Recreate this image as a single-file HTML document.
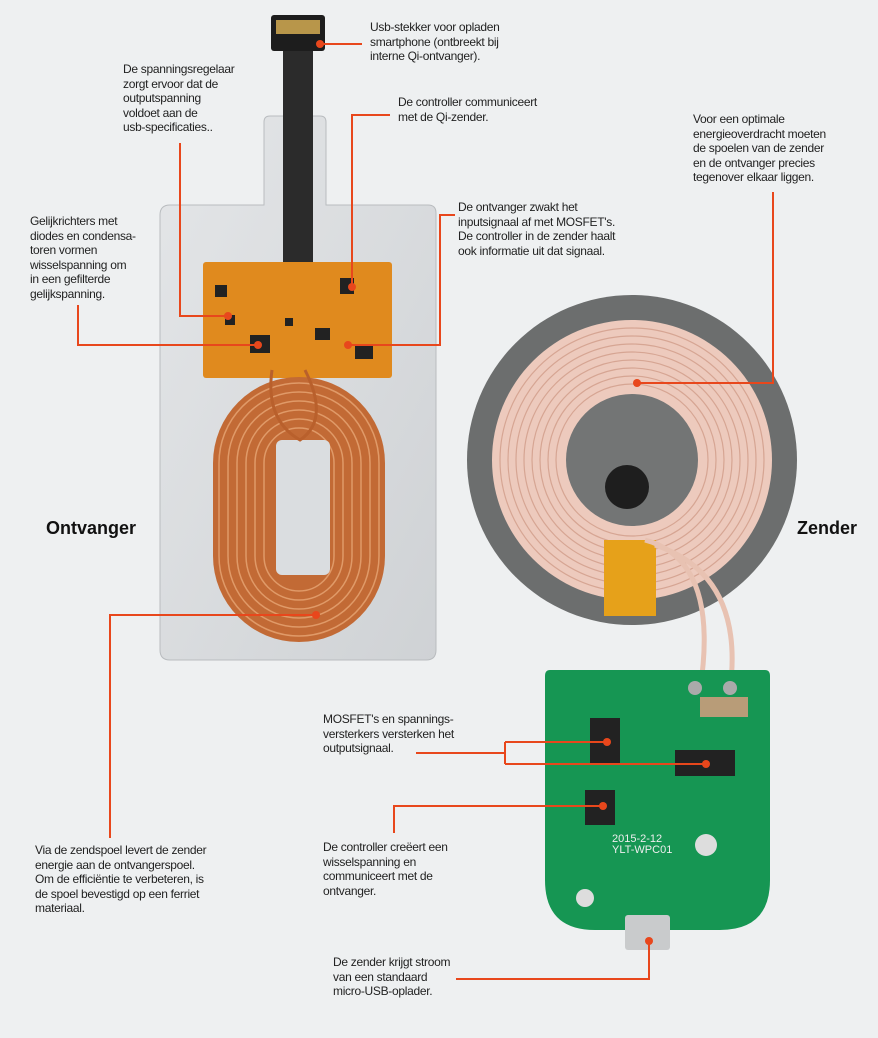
<!DOCTYPE html>
<html><head><meta charset="utf-8"><style>
body{margin:0;background:#eef0f1;}
#c{position:relative;width:878px;height:1038px;overflow:hidden;font-family:"Liberation Sans",sans-serif;}
.t{position:absolute;font-size:12px;line-height:14.5px;color:#222;letter-spacing:-0.3px;}
.h{position:absolute;font-size:18px;font-weight:bold;color:#111;}
</style></head><body><div id="c">
<svg width="878" height="1038" style="position:absolute;left:0;top:0">
<defs><linearGradient id="pl" x1="0" y1="0" x2="1" y2="1"><stop offset="0" stop-color="#e4e6e8"/><stop offset="1" stop-color="#cfd2d5"/></linearGradient></defs>
<path d="M270 116 H320 Q326 116 326 122 V205 H428 Q436 205 436 213 V650 Q436 660 426 660 H170 Q160 660 160 650 V215 Q160 205 170 205 H264 V122 Q264 116 270 116Z" fill="url(#pl)" stroke="#b9bcbf"/>
<rect x="283" y="40" width="30" height="270" fill="#2b2b2b"/>
<rect x="271" y="15" width="54" height="36" rx="3" fill="#1d1d1d"/>
<rect x="276" y="20" width="44" height="14" fill="#b8964a"/>
<rect x="203" y="262" width="189" height="116" rx="3" fill="#e08a1e"/>
<g fill="#222"><rect x="215" y="285" width="12" height="12"/><rect x="250" y="335" width="20" height="18"/><rect x="315" y="328" width="15" height="12"/><rect x="340" y="278" width="14" height="16"/><rect x="355" y="345" width="18" height="14"/><rect x="225" y="315" width="10" height="10"/><rect x="285" y="318" width="8" height="8"/></g>
<rect x="213" y="377" width="172" height="265" rx="86" fill="#c26a35"/>
<g fill="none" stroke="#e09a68" stroke-width="1.5">
<rect x="219" y="383" width="160" height="253" rx="80"/>
<rect x="228" y="392" width="142" height="235" rx="71"/>
<rect x="237" y="401" width="124" height="217" rx="62"/>
<rect x="246" y="410" width="106" height="199" rx="53"/>
<rect x="255" y="419" width="88" height="181" rx="44"/>
<rect x="264" y="428" width="70" height="163" rx="35"/>
</g>
<rect x="276" y="440" width="54" height="135" rx="6" fill="#dadde0"/>
<path d="M272 370 Q265 420 300 440 Q330 420 305 370" stroke="#b9602c" stroke-width="3" fill="none"/>
<circle cx="632" cy="460" r="165" fill="#6c6e6e"/>
<circle cx="632" cy="460" r="140" fill="#edcabd"/>
<g fill="none" stroke="#d6a593" stroke-width="1.2">
<circle cx="632" cy="460" r="132"/><circle cx="632" cy="460" r="124"/><circle cx="632" cy="460" r="116"/><circle cx="632" cy="460" r="108"/><circle cx="632" cy="460" r="100"/><circle cx="632" cy="460" r="92"/><circle cx="632" cy="460" r="84"/><circle cx="632" cy="460" r="76"/>
</g>
<circle cx="632" cy="460" r="66" fill="#737575"/>
<circle cx="627" cy="487" r="22" fill="#1e1e1e"/>
<rect x="604" y="540" width="52" height="76" fill="#e6a11a"/>
<path d="M645 540 Q720 560 700 690" stroke="#e8c2b2" stroke-width="5" fill="none"/>
<path d="M655 545 Q745 575 730 690" stroke="#e8c2b2" stroke-width="5" fill="none"/>
<path d="M550 670 H765 Q770 670 770 676 V880 Q770 930 720 930 H595 Q545 930 545 880 V676 Q545 670 550 670Z" fill="#169653"/>
<rect x="590" y="718" width="30" height="45" fill="#222"/>
<rect x="675" y="750" width="60" height="26" fill="#222"/>
<rect x="585" y="790" width="30" height="35" fill="#222"/>
<rect x="700" y="697" width="48" height="20" fill="#b89c78"/>
<rect x="625" y="915" width="45" height="35" rx="3" fill="#c9cbcc"/>
<circle cx="695" cy="688" r="7" fill="#aaa"/><circle cx="730" cy="688" r="7" fill="#aaa"/>
<circle cx="706" cy="845" r="11" fill="#ddd"/><circle cx="585" cy="898" r="9" fill="#ddd"/>
<text x="612" y="842" fill="#eee" font-size="11" font-family="Liberation Sans">2015-2-12</text>
<text x="612" y="853" fill="#eee" font-size="11" font-family="Liberation Sans">YLT-WPC01</text>
<g stroke="#e8471c" stroke-width="2" fill="none">
<path d="M320 44 H362"/>
<path d="M180 143 V316 H228"/>
<path d="M390 115 H352 V287"/>
<path d="M78 305 V345 H258"/>
<path d="M455 215 H440 V345 H348"/>
<path d="M773 192 V383 H637"/>
<path d="M110 838 V615 H316"/>
<path d="M416 753 H505 M505 742 V764 M505 742 H607 M505 764 H706"/>
<path d="M394 833 V806 H603"/>
<path d="M456 979 H649 V941"/>
</g>
<g fill="#e8471c">
<circle cx="320" cy="44" r="4"/><circle cx="228" cy="316" r="4"/><circle cx="352" cy="287" r="4"/><circle cx="258" cy="345" r="4"/><circle cx="348" cy="345" r="4"/><circle cx="637" cy="383" r="4"/><circle cx="316" cy="615" r="4"/><circle cx="607" cy="742" r="4"/><circle cx="706" cy="764" r="4"/><circle cx="603" cy="806" r="4"/><circle cx="649" cy="941" r="4"/>
</g>
</svg>
<div class="t" style="left:370px;top:20px">Usb-stekker voor opladen<br>smartphone (ontbreekt bij<br>interne Qi-ontvanger).</div>
<div class="t" style="left:123px;top:62px">De spanningsregelaar<br>zorgt ervoor dat de<br>outputspanning<br>voldoet aan de<br>usb-specificaties..</div>
<div class="t" style="left:398px;top:95px">De controller communiceert<br>met de Qi-zender.</div>
<div class="t" style="left:693px;top:112px">Voor een optimale<br>energieoverdracht moeten<br>de spoelen van de zender<br>en de ontvanger precies<br>tegenover elkaar liggen.</div>
<div class="t" style="left:30px;top:214px">Gelijkrichters met<br>diodes en condensa-<br>toren vormen<br>wisselspanning om<br>in een gefilterde<br>gelijkspanning.</div>
<div class="t" style="left:458px;top:200px">De ontvanger zwakt het<br>inputsignaal af met MOSFET's.<br>De controller in de zender haalt<br>ook informatie uit dat signaal.</div>
<div class="h" style="left:46px;top:518px">Ontvanger</div>
<div class="h" style="left:797px;top:518px">Zender</div>
<div class="t" style="left:323px;top:712px">MOSFET's en spannings-<br>versterkers versterken het<br>outputsignaal.</div>
<div class="t" style="left:323px;top:840px">De controller creëert een<br>wisselspanning en<br>communiceert met de<br>ontvanger.</div>
<div class="t" style="left:35px;top:843px">Via de zendspoel levert de zender<br>energie aan de ontvangerspoel.<br>Om de efficiëntie te verbeteren, is<br>de spoel bevestigd op een ferriet<br>materiaal.</div>
<div class="t" style="left:333px;top:955px">De zender krijgt stroom<br>van een standaard<br>micro-USB-oplader.</div>
</div></body></html>
